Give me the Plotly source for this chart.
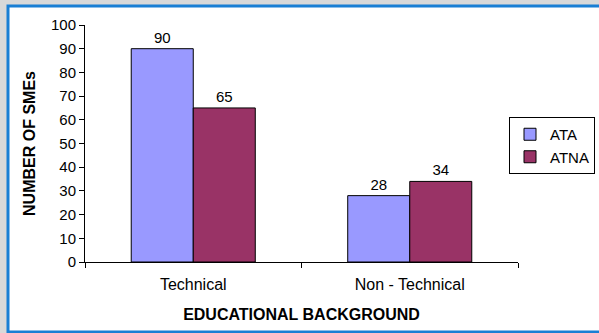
import plotly.graph_objects as go

categories = ["Technical", "Non - Technical"]
ata = [90, 28]
atna = [65, 34]
y_ticks = [0, 10, 20, 30, 40, 50, 60, 70, 80, 90, 100]

W, H = 599, 333
L, R, T, B = 85, 81, 25, 71
pw, ph = W - L - R, H - T - B

def px(x):
    return (x - L) / pw

def py(y):
    return (H - B - y) / ph

FAM = "Liberation Sans, Arial, sans-serif"
font = dict(family=FAM, size=15, color="#000000")

fig = go.Figure()
fig.add_trace(go.Bar(name="ATA", x=categories, y=ata, marker=dict(color="#9999FF", line=dict(color="#000000", width=1)),
                     text=ata, textposition="outside", textfont=font, cliponaxis=False))
fig.add_trace(go.Bar(name="ATNA", x=categories, y=atna, marker=dict(color="#993366", line=dict(color="#000000", width=1)),
                     text=atna, textposition="outside", textfont=font, cliponaxis=False))

fig.update_layout(
    width=W, height=H,
    margin=dict(l=L, r=R, t=T, b=B, pad=0, autoexpand=False),
    paper_bgcolor="#d9d9d9",
    plot_bgcolor="rgba(0,0,0,0)",
    barmode="group",
    bargap=0.427,
    bargroupgap=0,
    font=font,
    showlegend=True,
    legend=dict(x=px(595), y=py(117), xanchor="right", yanchor="top",
                bordercolor="#000000", borderwidth=1, bgcolor="#ffffff",
                font=dict(family=FAM, size=15), itemwidth=30),
    xaxis=dict(showline=True, linecolor="#000000", linewidth=1, ticks="outside", ticklen=5,
               tickcolor="#000000", tickson="boundaries", showgrid=False, ticklabelstandoff=8,
               title=dict(text="<b>EDUCATIONAL BACKGROUND</b>", font=dict(family=FAM, size=16), standoff=16),
               tickfont=dict(family=FAM, size=16, color="#000000")),
    yaxis=dict(range=[0, 100], tickvals=y_ticks, showline=True, linecolor="#000000", linewidth=1,
               ticks="outside", ticklen=5, tickcolor="#000000", showgrid=False, zeroline=False,
               title=dict(text="<b>NUMBER OF SMEs</b>", font=dict(family=FAM, size=16), standoff=11),
               tickfont=font),
    shapes=[dict(type="rect", xref="paper", yref="paper", layer="below",
                 x0=px(8), x1=px(610), y0=py(332), y1=py(6),
                 fillcolor="#ffffff", line=dict(color="#1a7fd4", width=3))],
)

fig.write_html("out.html")
